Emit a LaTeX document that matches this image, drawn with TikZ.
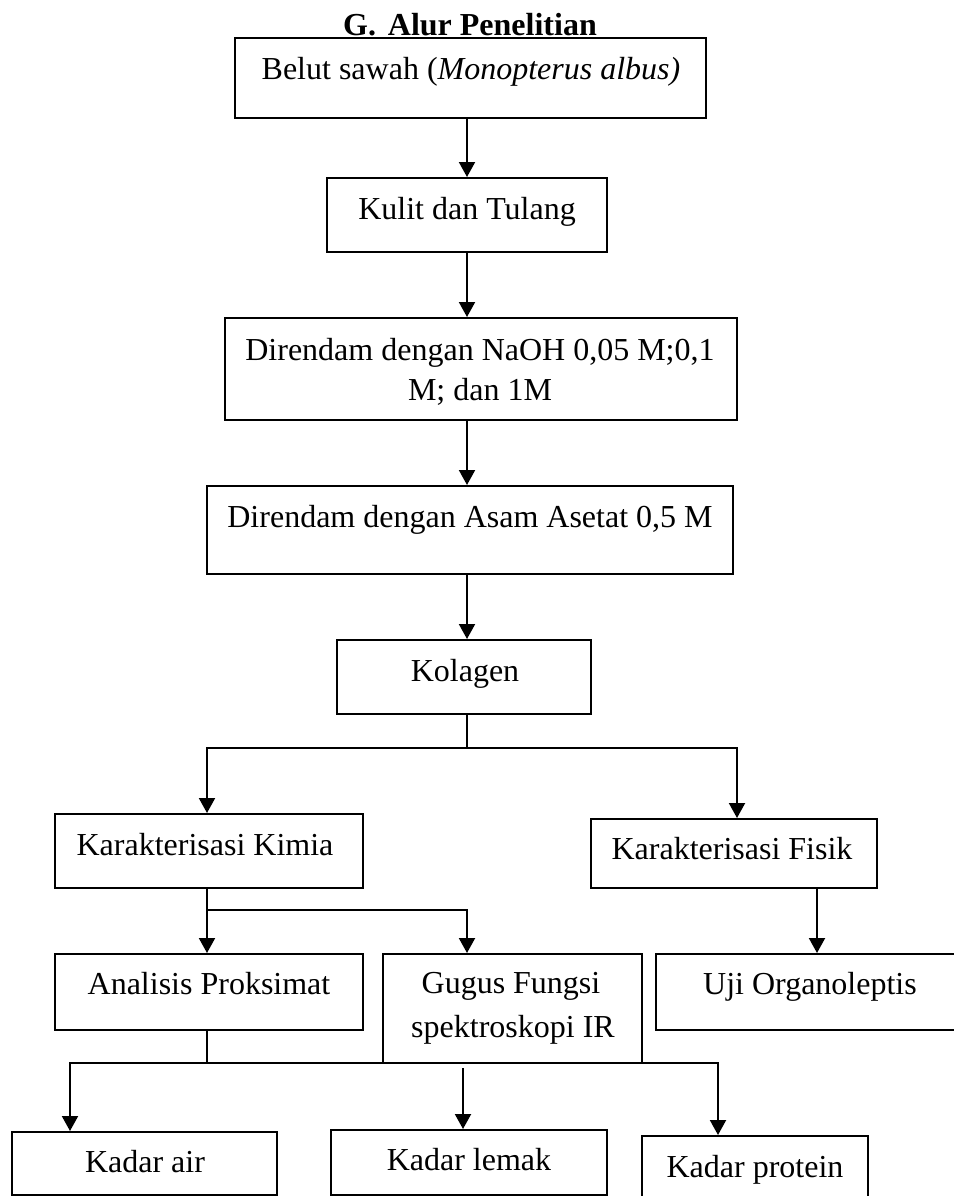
\documentclass[tikz,border=0pt]{standalone}
\usepackage{fontspec}
\setmainfont{Liberation Serif}
\usetikzlibrary{arrows.meta,fit}
\begin{document}
\begin{tikzpicture}[x=0.5pt,y=-0.5pt,
  box/.style={draw,line width=1pt,inner sep=0pt,rectangle},
  txt/.style={anchor=base,inner sep=0pt,font=\fontsize{16}{20}\selectfont},
  ttl/.style={anchor=base,inner sep=0pt,font=\fontsize{16}{20}\selectfont\bfseries},
  link/.style={line width=1pt},
  arr/.style={line width=1pt,-{Triangle[length=7.5pt,width=8pt]}}]
\clip (0,0) rectangle (954,1196);
% boxes
\node[box,fit={(235,38) (706,118)}] (b1) {};
\node[box,fit={(327,178) (607,252)}] (b2) {};
\node[box,fit={(225,318) (737,420)}] (b3) {};
\node[box,fit={(207,486) (733,574)}] (b4) {};
\node[box,fit={(337,640) (591,714)}] (b5) {};
\node[box,fit={(55,814) (363,888)}] (kimia) {};
\node[box,fit={(591,819) (877,888)}] (fisik) {};
\node[box,fit={(55,954) (363,1030)}] (anal) {};
\node[box,fit={(383,954) (642,1063)}] (gugus) {};
\node[box,fit={(656,954) (962,1030)}] (uji) {};
\node[box,fit={(12,1132) (277,1195)}] (air) {};
\node[box,fit={(331,1130) (607,1195)}] (lemak) {};
\node[box,fit={(642,1136) (868,1202)}] (prot) {};
% texts
\node[ttl] (title) at (470,35) {G.\hspace{0.37em}Alur Penelitian};
\node[txt] (t1) at (471,79) {Belut sawah (\textit{Monopterus albus)}};
\node[txt] (t2) at (467,219) {Kulit dan Tulang};
\node[txt] (t3a) at (480,360) {Direndam dengan NaOH 0,05 M;0,1};
\node[txt] (t3b) at (480,400) {M; dan 1M};
\node[txt] (t4) at (470,527) {Direndam dengan Asam Asetat 0,5 M};
\node[txt] (t5) at (465,681) {Kolagen};
\node[txt] (tkimia) at (205,855) {Karakterisasi Kimia};
\node[txt] (tfisik) at (732,859) {Karakterisasi Fisik};
\node[txt] (tanal) at (209,994) {Analisis Proksimat};
\node[txt] (tgug1) at (511,993) {Gugus Fungsi};
\node[txt] (tgug2) at (513,1037) {spektroskopi IR};
\node[txt] (tuji) at (810,994) {Uji Organoleptis};
\node[txt] (tair) at (145,1172) {Kadar air};
\node[txt] (tlemak) at (469,1170) {Kadar lemak};
\node[txt] (tprot) at (755,1177) {Kadar protein};
% junction coordinates
\coordinate (sp) at (467,0);
\coordinate (j1m) at (467,748);
\coordinate (xl) at (207,0);
\coordinate (xr) at (737,0);
\coordinate (j2l) at (207,910);
\coordinate (fx) at (817,0);
\coordinate (j3m) at (207,1063);
\coordinate (xa) at (70,0);
\coordinate (xp) at (718,0);
\coordinate (j3c) at (463,1068);
% connectors
\draw[arr] (b1.south -| sp) -- (b2.north -| sp);
\draw[arr] (b2.south -| sp) -- (b3.north -| sp);
\draw[arr] (b3.south -| sp) -- (b4.north -| sp);
\draw[arr] (b4.south -| sp) -- (b5.north -| sp);
\draw[link] (b5.south -| sp) -- (j1m);
\draw[arr] (j1m) -| (kimia.north -| xl);
\draw[arr] (j1m) -| (fisik.north -| xr);
\draw[arr] (kimia.south -| xl) -- (anal.north -| xl);
\draw[arr] (j2l) -| (gugus.north -| sp);
\draw[arr] (fisik.south -| fx) -- (uji.north -| fx);
\draw[link] (anal.south -| xl) -- (j3m);
\draw[arr] (j3m) -| (air.north -| xa);
\draw[arr] (j3m) -| (prot.north -| xp);
\draw[arr] (j3c) -- (lemak.north -| j3c);
\end{tikzpicture}
\end{document}
